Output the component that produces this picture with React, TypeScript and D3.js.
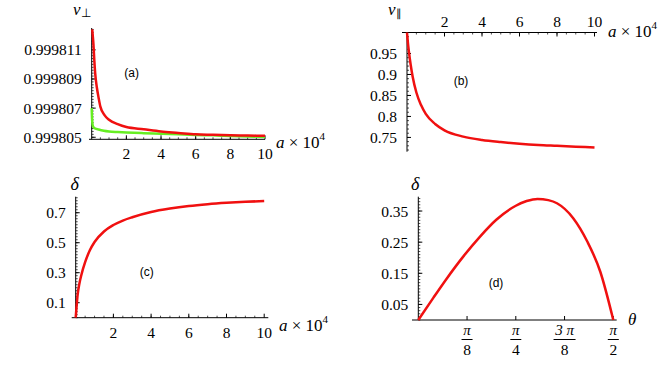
import React, { useEffect, useRef } from 'react';
import * as d3 from 'd3';

// (a) v_perp against a x 10^4
const aRed = [0.03, 0.06, 0.1, 0.15, 0.2, 0.3, 0.4, 0.5, 0.75, 1, 1.5, 2, 3, 4, 5, 6, 7, 8, 9, 10];
const vPerpRed = [0.9998124, 0.999812, 0.9998114, 0.9998103, 0.9998094, 0.9998084, 0.9998077, 0.9998071, 0.9998065, 0.9998062, 0.9998059, 0.9998057, 0.99980555, 0.9998054, 0.9998053, 0.9998052, 0.99980517, 0.99980514, 0.99980512, 0.9998051];
const aGreen = [0, 0.01, 0.03, 0.06, 0.1, 0.2, 0.4, 0.7, 1, 1.5, 2, 3, 4, 5, 6, 7, 8, 9, 10];
const vPerpGreen = [0.999807, 0.9998066, 0.9998061, 0.9998058, 0.9998057, 0.9998056, 0.99980553, 0.99980545, 0.9998054, 0.99980536, 0.99980533, 0.99980528, 0.99980524, 0.9998052, 0.99980516, 0.99980513, 0.99980509, 0.99980506, 0.99980502];

// (b) v_par against a x 10^4
const aPar = [0, 0.05, 0.1, 0.2, 0.3, 0.5, 0.75, 1, 1.5, 2, 3, 4, 5, 6, 7, 8, 9, 10];
const vPar = [1.0, 0.975, 0.955, 0.922, 0.895, 0.857, 0.827, 0.806, 0.782, 0.767, 0.752, 0.744, 0.739, 0.735, 0.732, 0.73, 0.728, 0.726];

// (c) delta against a x 10^4
const aDelta = [0, 0.05, 0.1, 0.2, 0.3, 0.5, 0.75, 1, 1.5, 2, 2.5, 3, 4, 5, 6, 7, 8, 9, 10];
const deltaA = [0, 0.08, 0.15, 0.23, 0.285, 0.37, 0.45, 0.505, 0.575, 0.618, 0.648, 0.67, 0.705, 0.728, 0.745, 0.757, 0.766, 0.773, 0.778];

// (d) delta against theta (degrees)
const thetaDeg = [0, 7, 13, 21, 28.5, 36, 45, 50, 55, 60, 64, 71.5, 78, 84, 90];
const deltaTheta = [0, 0.072, 0.132, 0.206, 0.268, 0.322, 0.367, 0.382, 0.389, 0.385, 0.375, 0.327, 0.252, 0.155, 0];

// ticks
const aTicks = [2, 4, 6, 8, 10];
const perpTicks = [0.999805, 0.999807, 0.999809, 0.999811];
const parTicks = [0.75, 0.8, 0.85, 0.9, 0.95];
const parTickLabels = ['0.75', '0.8', '0.85', '0.9', '0.95'];
const deltaATicks = [0.1, 0.3, 0.5, 0.7];
const deltaThetaTicks = [0.05, 0.15, 0.25, 0.35];
const thetaTicks = [22.5, 45, 67.5, 90];
const thetaNum = ['π', 'π', '3 π', 'π'];
const thetaDen = ['8', '4', '8', '2'];

const RED = '#f01010';
const GREEN = '#66ee22';
const SERIF = "'Liberation Serif', serif";
const SANS = "'Liberation Sans', sans-serif";

const App = () => {
  const ref = useRef<SVGSVGElement>(null);

  useEffect(() => {
    const svg = d3.select(ref.current);
    svg.selectAll('*').remove();

    const serifText = (x: number, y: number, size: number) =>
      svg.append('text').attr('x', x).attr('y', y).style('font-family', SERIF).style('font-size', `${size}px`);

    const line = (g: any, xs: number[], ys: number[], x: any, y: any, color: string) => {
      const pts = xs.map((v, i) => [v, ys[i]] as [number, number]);
      g.append('path')
        .attr('d', d3.line<[number, number]>().x(d => x(d[0])).y(d => y(d[1])).curve(d3.curveMonotoneX)(pts))
        .attr('fill', 'none')
        .attr('stroke', color)
        .attr('stroke-width', 2.5);
    };

    const yAxis = (x0: number, y: any, top: number, bottom: number, majors: number[], labels: string[], minorStep: number) => {
      svg.append('line').attr('x1', x0).attr('x2', x0).attr('y1', top).attr('y2', bottom).attr('stroke', '#000');
      const [d0, d1] = y.domain();
      const minors = d3.range(Math.ceil(d0 / minorStep) * minorStep, d1, minorStep);
      minors.forEach(v => {
        svg.append('line').attr('x1', x0).attr('x2', x0 + 2).attr('y1', y(v)).attr('y2', y(v)).attr('stroke', '#000').attr('stroke-width', 0.7);
      });
      majors.forEach((v, i) => {
        svg.append('line').attr('x1', x0).attr('x2', x0 + 4).attr('y1', y(v)).attr('y2', y(v)).attr('stroke', '#000');
        serifText(x0 - 10, y(v), 15.5).attr('text-anchor', 'end').attr('dominant-baseline', 'central').text(labels[i]);
      });
    };

    const xAxis = (y0: number, x: any, left: number, right: number, majors: number[], dir: number, labelDy: number) => {
      svg.append('line').attr('x1', left).attr('x2', right).attr('y1', y0).attr('y2', y0).attr('stroke', '#000');
      d3.range(0.5, 10, 0.5).forEach(v => {
        svg.append('line').attr('x1', x(v)).attr('x2', x(v)).attr('y1', y0).attr('y2', y0 + 2 * dir).attr('stroke', '#000').attr('stroke-width', 0.7);
      });
      majors.forEach(v => {
        svg.append('line').attr('x1', x(v)).attr('x2', x(v)).attr('y1', y0).attr('y2', y0 + 4 * dir).attr('stroke', '#000');
        serifText(x(v), y0 + labelDy, 15.5).attr('text-anchor', 'middle').attr('dominant-baseline', 'central').text(v);
      });
    };

    const aLabel = (x0: number, y0: number) => {
      const t = serifText(x0, y0, 17);
      t.append('tspan').style('font-style', 'italic').text('a');
      t.append('tspan').text(' × 10');
      t.append('tspan').style('font-size', '11px').attr('dy', -8).text('4');
    };

    const panelLabel = (x0: number, y0: number, s: string) => {
      svg.append('text').attr('x', x0).attr('y', y0).attr('text-anchor', 'middle').attr('dominant-baseline', 'central')
        .style('font-family', SANS).style('font-size', '12px').text(s);
    };

    // ---- (a)
    const xa = d3.scaleLinear().domain([0, 10]).range([91.7, 265]);
    const ya = d3.scaleLinear().domain([0.99980486, 0.9998125]).range([139.3, 28]);
    yAxis(91.7, ya, 28, 139.3, perpTicks, perpTicks.map(d3.format('.6f')), 0.0000002);
    xAxis(139.3, xa, 89, 265, aTicks, -1, 14);
    const ga = svg.append('g');
    line(ga, aGreen, vPerpGreen, xa, ya, GREEN);
    line(ga, aRed, vPerpRed, xa, ya, RED);
    aLabel(276, 148);
    panelLabel(131.7, 73, '(a)');
    const va = serifText(73, 15, 17);
    va.append('tspan').style('font-style', 'italic').text('v');
    va.append('tspan').style('font-size', '12px').attr('dy', 2).text('⊥');

    // ---- (b)
    const xb = d3.scaleLinear().domain([0, 10]).range([407, 594.5]);
    const yb = d3.scaleLinear().domain([0.716, 1.0]).range([151.7, 32.5]);
    yAxis(407, yb, 32.5, 151.7, parTicks, parTickLabels, 0.01);
    xAxis(32.5, xb, 402, 597, aTicks, 1, -11);
    line(svg.append('g'), aPar, vPar, xb, yb, RED);
    aLabel(608, 37);
    panelLabel(461, 81, '(b)');
    const vb = serifText(388, 15, 17);
    vb.append('tspan').style('font-style', 'italic').text('v');
    vb.append('tspan').style('font-size', '11px').attr('dy', 2).text('∥');

    // ---- (c)
    const xc = d3.scaleLinear().domain([0, 10]).range([75.7, 264.2]);
    const yc = d3.scaleLinear().domain([0, 0.807]).range([317.7, 196.7]);
    yAxis(75.7, yc, 196.7, 317.7, deltaATicks, deltaATicks.map(String), 0.02);
    xAxis(317.7, xc, 71.7, 268.3, aTicks, -1, 15);
    line(svg.append('g'), aDelta, deltaA, xc, yc, RED);
    aLabel(279, 331);
    panelLabel(146.7, 271.7, '(c)');
    serifText(70.5, 190, 18).style('font-style', 'italic').text('δ');

    // ---- (d)
    const xd = d3.scaleLinear().domain([0, 90]).range([418.3, 613.3]);
    const yd = d3.scaleLinear().domain([0, 0.396]).range([320, 196.7]);
    yAxis(418.3, yd, 196.7, 320, deltaThetaTicks, deltaThetaTicks.map(String), 0.01);
    svg.append('line').attr('x1', 412).attr('x2', 616.7).attr('y1', 320).attr('y2', 320).attr('stroke', '#000');
    thetaTicks.forEach((v, i) => {
      const x = xd(v);
      svg.append('line').attr('x1', x).attr('x2', x).attr('y1', 320).attr('y2', 316).attr('stroke', '#000');
      serifText(x, 335, 15).attr('text-anchor', 'middle').style('font-style', 'italic').text(thetaNum[i]);
      const w = thetaNum[i].length > 1 ? 22 : 11;
      svg.append('line').attr('x1', x - w / 2).attr('x2', x + w / 2).attr('y1', 339.5).attr('y2', 339.5).attr('stroke', '#000');
      serifText(x, 355, 15.5).attr('text-anchor', 'middle').text(thetaDen[i]);
    });
    line(svg.append('g'), thetaDeg, deltaTheta, xd, yd, RED);
    panelLabel(496, 282.7, '(d)');
    serifText(411, 190, 18).style('font-style', 'italic').text('δ');
    serifText(628, 325, 17).style('font-style', 'italic').text('θ');
  }, []);

  return (
    <svg ref={ref} width={664} height={365} style={{ position: 'absolute', left: 0, top: 0, background: '#fff' }} />
  );
};

export default App;
